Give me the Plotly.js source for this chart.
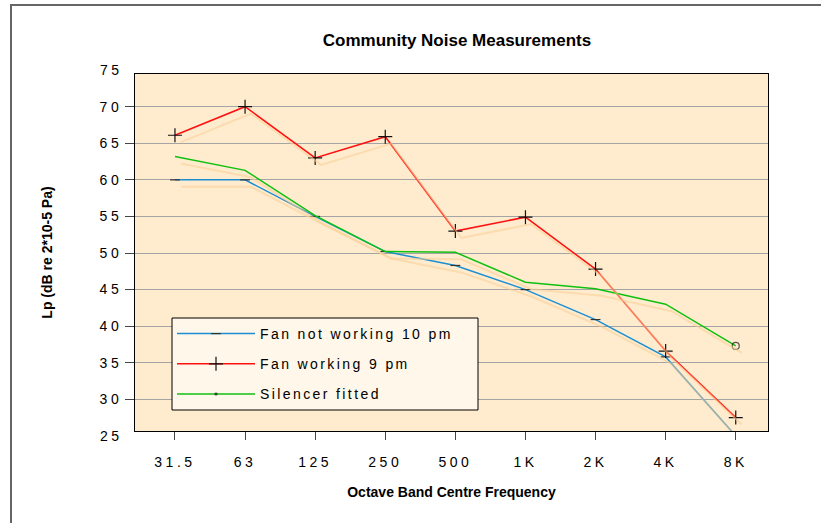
<!DOCTYPE html>
<html><head><meta charset="utf-8">
<script src="https://cdn.plot.ly/plotly-3.0.1.min.js"></script>
<style>
html,body{margin:0;padding:0;background:#fff;}
#wrap{position:relative;width:821px;height:523px;overflow:hidden;}
#chart{width:821px;height:523px;}
#frame{position:absolute;left:10px;top:4px;right:-5px;bottom:-5px;border-top:2px solid #666;border-left:2px solid #666;pointer-events:none;}
.xtick text, .ytick text, .annotation-text {letter-spacing:3.5px;}
.legendtext {letter-spacing:2.4px;}
</style></head><body>
<div id="wrap"><div id="chart"></div><div id="frame"></div></div>
<script>
// ---- data ----
const categories = ['31.5','63','125','250','500','1K','2K','4K','8K'];
const fanNotWorking = [60.0, 60.0, 55.0, 50.2, 48.3, 45.0, 40.9, 35.8, 25.0];
const fanWorking    = [66.1, 70.0, 63.0, 65.9, 53.0, 54.9, 47.8, 36.6, 27.5];
const silencer      = [63.2, 61.3, 55.1, 50.2, 50.1, 46.0, 45.1, 43.0, 37.3];
const seriesNames = ['Fan not working 10 pm', 'Fan working 9 pm', 'Silencer fitted'];
const yTickVals = [30, 35, 40, 45, 50, 55, 60, 65, 70];
const yEdgeLabels = [25, 75];

// ---- layout geometry ----
const xRange = [-0.57, 8.46];
const yRange = [25.67, 74.47];
const shadowDx = 0.085;   // ~6px
const shadowDy = 0.95;    // ~7px
const font = 'Liberation Sans, Arial, sans-serif';
const shadowColor = 'rgba(250,205,150,0.55)';

const series = [
  {y: fanNotWorking, name: seriesNames[0], color: '#1b8fd2', symbol: 'line-ew', size: 7, mcolor: '#333'},
  {y: fanWorking,    name: seriesNames[1], color: '#ff1010', symbol: 'cross-thin', size: 10, mcolor: '#111'},
  {y: silencer,      name: seriesNames[2], color: '#10c010', symbol: 'circle-open', size: silencer.map((v, i) => i === silencer.length - 1 ? 7 : 0), mcolor: '#111'}
];

const traces = [];
series.forEach(s => {
  traces.push({
    x: categories, y: s.y, type: 'scatter', mode: 'lines',
    xaxis: 'x2', yaxis: 'y2', showlegend: false, hoverinfo: 'skip',
    line: {color: shadowColor, width: 2}
  });
});
series.forEach((s, i) => {
  traces.push({
    x: categories, y: s.y, type: 'scatter', mode: 'lines+markers', name: s.name,
    legendgroup: 'g' + i,
    line: {color: s.color, width: 1.5},
    marker: {symbol: s.symbol, size: s.size, color: s.mcolor, line: {color: s.mcolor, width: 1.2}}
  });
});

const yToPaper = v => (v - yRange[0]) / (yRange[1] - yRange[0]);
// legend box in pixels of the plot area (left 135, top 74, width 633, height 357)
const pxX = p => (p - 135) / 633;
const pxY = p => (431 - p) / 357;

const layout = {
  width: 821, height: 523,
  margin: {l: 135, r: 53, t: 74, b: 92},
  paper_bgcolor: 'rgba(0,0,0,0)',
  plot_bgcolor: '#ffecce',
  font: {family: font, size: 14, color: '#000'},
  showlegend: true,
  title: {
    text: '<b>Community Noise Measurements</b>',
    font: {family: font, size: 17, color: '#000'},
    x: 457 / 821, xref: 'container', xanchor: 'center',
    y: 1 - 40 / 523, yref: 'container', yanchor: 'middle'
  },
  xaxis: {
    type: 'category', categoryorder: 'array', categoryarray: categories,
    range: xRange, showgrid: false, zeroline: false,
    showline: true, mirror: true, linecolor: '#000', linewidth: 1,
    ticks: 'outside', ticklen: 8, tickcolor: '#444', tickwidth: 1,
    ticklabelstandoff: 10,
    tickfont: {family: font, size: 14, color: '#000'},
    title: {text: '<b>Octave Band Centre Frequency</b>', font: {family: font, size: 14, color: '#000'}, standoff: 18}
  },
  yaxis: {
    range: yRange, tickmode: 'array', tickvals: yTickVals,
    showgrid: true, gridcolor: '#a4a4a4', gridwidth: 1, zeroline: false,
    showline: true, mirror: true, linecolor: '#000', linewidth: 1,
    ticks: 'outside', ticklen: 9, tickcolor: '#444', tickwidth: 1,
    tickfont: {family: font, size: 14, color: '#000'},
    title: {text: '<b>Lp (dB re 2*10-5 Pa)</b>', font: {family: font, size: 14, color: '#000'}, standoff: 43}
  },
  xaxis2: {
    type: 'category', categoryorder: 'array', categoryarray: categories,
    overlaying: 'x', range: [xRange[0] - shadowDx, xRange[1] - shadowDx], visible: false
  },
  yaxis2: {
    overlaying: 'y', range: [yRange[0] + shadowDy, yRange[1] + shadowDy], visible: false
  },
  legend: {
    x: pxX(172), y: pxY(318), xanchor: 'left', yanchor: 'top',
    bgcolor: 'rgba(0,0,0,0)', borderwidth: 0,
    font: {family: font, size: 14, color: '#000'},
    itemwidth: 78, tracegroupgap: 9, traceorder: 'grouped'
  },
  shapes: [{
    type: 'rect', xref: 'paper', yref: 'paper', layer: 'above',
    x0: pxX(172), x1: pxX(478), y0: pxY(410), y1: pxY(318),
    fillcolor: '#fff7e9', line: {color: '#000', width: 1}
  }],
  annotations: yEdgeLabels.map(v => ({
    xref: 'paper', yref: 'paper', x: 0, y: yToPaper(v), xanchor: 'right', yanchor: 'middle',
    xshift: -10, text: String(v), showarrow: false,
    font: {family: font, size: 14, color: '#000'}
  }))
};

Plotly.newPlot('chart', traces, layout, {displayModeBar: false, staticPlot: true});
</script>
</body></html>
